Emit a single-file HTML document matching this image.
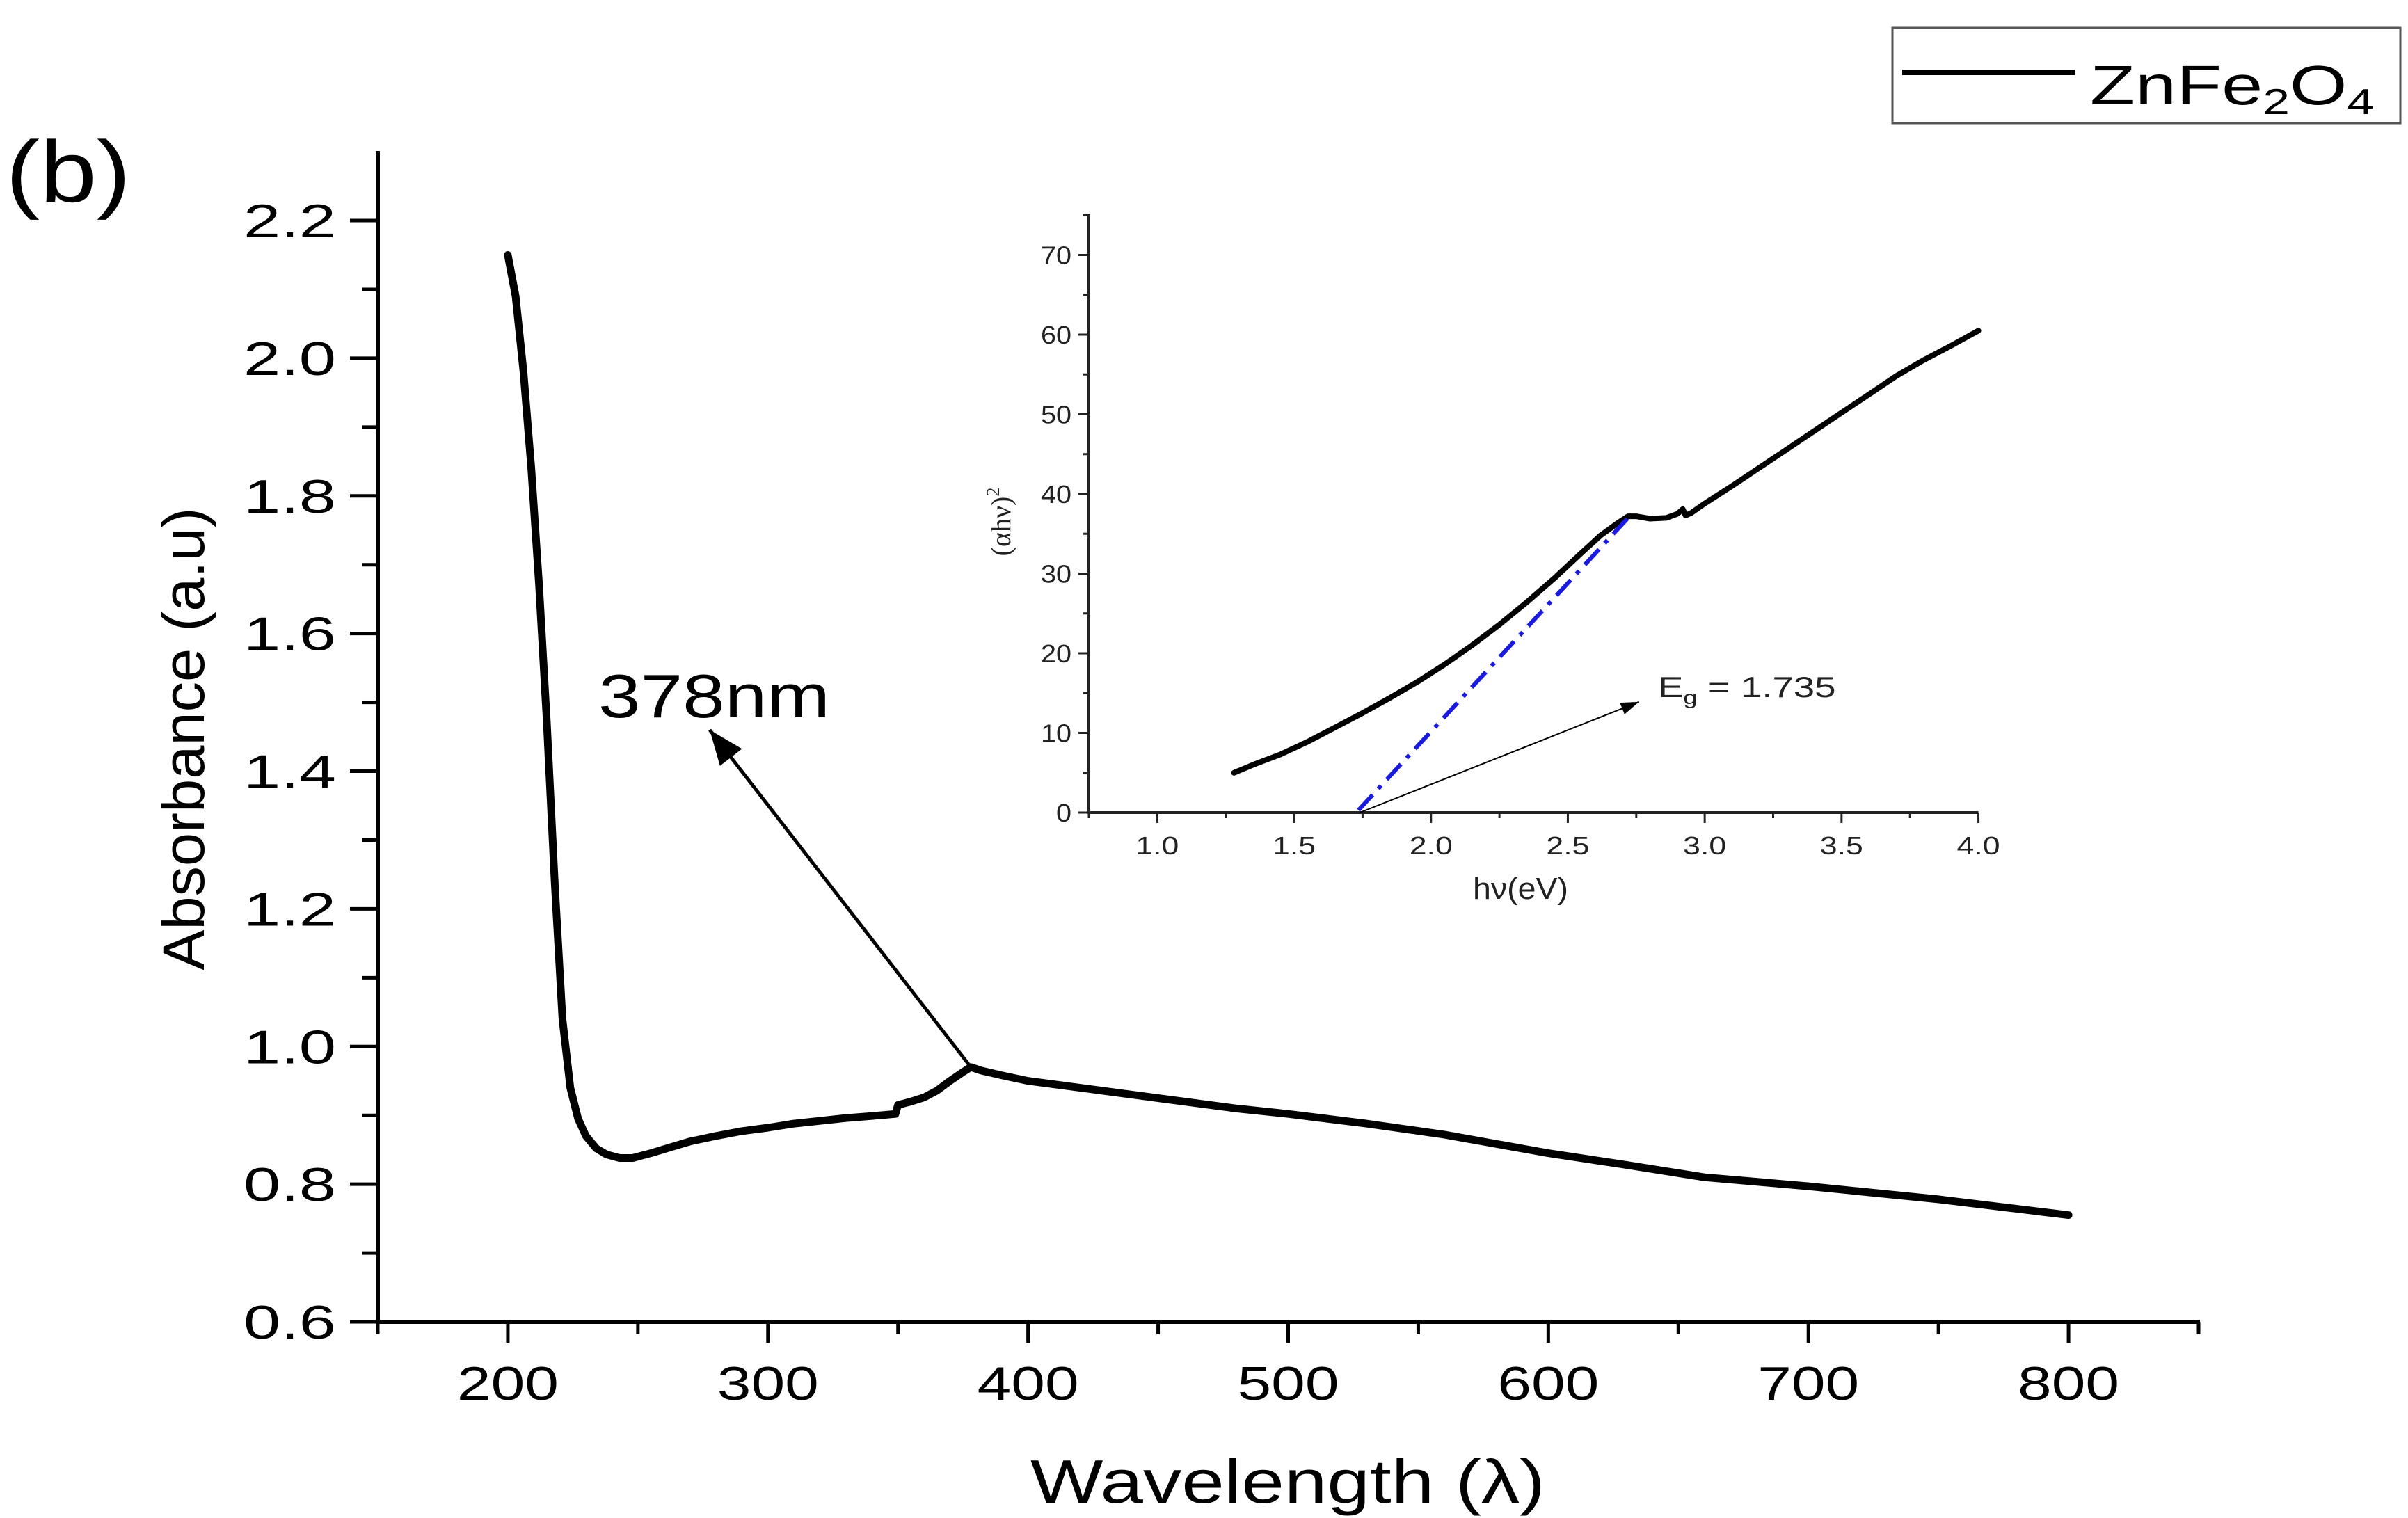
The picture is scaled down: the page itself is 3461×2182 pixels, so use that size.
<!DOCTYPE html>
<html><head><meta charset="utf-8"><style>
html,body{margin:0;padding:0;background:#fff;}
svg{display:block;font-family:"Liberation Sans",Arial,sans-serif;}
</style></head><body>
<svg id="chart" width="3461" height="2182" viewBox="0 0 3461 2182" xmlns="http://www.w3.org/2000/svg">
<g id="main"></g>
<g id="inset"></g>
</svg>
<script>
// Main chart data
const mainWavelength = [200,203,206,209,212,215,218,221,224,227,230,234,238,243,248,255,262,270,280,290,300,310,320,330,340,349,350,355,360,365,370,375,378,382,390,400,420,450,480,500,530,560,600,630,660,700,750,800];
const mainAbsorbance = [2.15,2.09,1.98,1.84,1.67,1.47,1.24,1.04,0.94,0.895,0.87,0.852,0.843,0.838,0.838,0.845,0.853,0.862,0.870,0.877,0.882,0.888,0.892,0.896,0.899,0.902,0.915,0.920,0.926,0.936,0.950,0.963,0.970,0.965,0.958,0.950,0.940,0.925,0.910,0.902,0.888,0.872,0.845,0.828,0.810,0.797,0.778,0.755];
const mainXTicks = [200,300,400,500,600,700,800];
const mainYTicks = [0.6,0.8,1.0,1.2,1.4,1.6,1.8,2.0,2.2];
const peakPoint = [378,0.97];
const peakLabelPoint = [277.6,1.46];
// Inset data
const insetEnergy = [1.28,1.35,1.45,1.55,1.65,1.75,1.85,1.95,2.05,2.15,2.25,2.35,2.45,2.55,2.62,2.68,2.72,2.75,2.80,2.86,2.90,2.92,2.93,2.95,3.0,3.1,3.2,3.3,3.4,3.5,3.6,3.7,3.8,3.9,4.0];
const insetValue = [5.0,6.0,7.3,8.9,10.7,12.5,14.4,16.4,18.6,21.0,23.6,26.4,29.4,32.6,34.8,36.3,37.2,37.2,36.9,37.0,37.5,38.1,37.3,37.6,38.8,41.0,43.3,45.6,47.9,50.2,52.5,54.8,56.8,58.6,60.5];
const fitLine = [[1.735,0.3],[2.72,37]];
const insetXTicks = [1.0,1.5,2.0,2.5,3.0,3.5,4.0];
const insetYTicks = [0,10,20,30,40,50,60,70];
const egArrowEnd = [2.76,13.9];

const NS="http://www.w3.org/2000/svg";
function mk(parent,tag,attrs,text){const e=document.createElementNS(NS,tag);for(const k in attrs)e.setAttribute(k,attrs[k]);if(text!==undefined)e.textContent=text;parent.appendChild(e);return e;}

const mx=v=>543+(v-150)*(3160-543)/700;
const my=v=>1900-(v-0.6)*(1900-317)/1.6;
const main=document.getElementById('main');
let el;
el=mk(main,'text',{x:8,y:290,'font-size':125,textLength:180,lengthAdjust:'spacingAndGlyphs'});el.textContent='(b)';


el=mk(main,'line',{x1:543,y1:217,x2:543,y2:1903,stroke:'#000','stroke-width':6});


el=mk(main,'line',{x1:540,y1:1900,x2:3162,y2:1900,stroke:'#000','stroke-width':6});


for(let i=0;i<mainYTicks.length;i++){const v=mainYTicks[i];const y=my(v);
 el=mk(main,'line',{x1:503,y1:y,x2:543,y2:y,stroke:'#000','stroke-width':5});
 
 
 if(i<mainYTicks.length-1){const ym=my(v+0.1);el=mk(main,'line',{x1:520,y1:ym,x2:543,y2:ym,stroke:'#000','stroke-width':5});
 
 }
 el=mk(main,'text',{x:350,y:y+24,'font-size':68,textLength:133,lengthAdjust:'spacingAndGlyphs'},v.toFixed(1));
 
 
}
for(let v=150;v<=850;v+=50){const x=mx(v);const major=(v%100===0);
 el=mk(main,'line',{x1:x,y1:1900,x2:x,y2:major?1930:1918,stroke:'#000','stroke-width':5});
 
 
}
for(const v of mainXTicks){el=mk(main,'text',{x:mx(v)-73,y:2012,'font-size':68,textLength:146,lengthAdjust:'spacingAndGlyphs'},String(v));
 
 }
el=mk(main,'text',{x:1481,y:2160,'font-size':88,textLength:740,lengthAdjust:'spacingAndGlyphs'},'Wavelength (λ)');


el=mk(main,'text',{x:0,y:0,'font-size':84,'text-anchor':'middle',transform:'translate(293,1062) rotate(-90)',textLength:665,lengthAdjust:'spacingAndGlyphs'},'Absorbance (a.u)');


let d='';for(let i=0;i<mainWavelength.length;i++){d+=(i?'L':'M')+mx(mainWavelength[i]).toFixed(1)+','+my(mainAbsorbance[i]).toFixed(1);}
el=mk(main,'path',{d:d,fill:'none',stroke:'#000','stroke-width':11,'stroke-linejoin':'round','stroke-linecap':'round'});


{const x1=mx(peakPoint[0]),y1=my(peakPoint[1]),x2=mx(peakLabelPoint[0]),y2=my(peakLabelPoint[1]);
 el=mk(main,'line',{x1:x1,y1:y1,x2:x2,y2:y2,stroke:'#000','stroke-width':5});
 
 
 const a=Math.atan2(y2-y1,x2-x1),L=50,W=20;const bx=x2-L*Math.cos(a),by=y2-L*Math.sin(a);
 el=mk(main,'polygon',{points:`${x2},${y2} ${bx-W*Math.sin(a)},${by+W*Math.cos(a)} ${bx+W*Math.sin(a)},${by-W*Math.cos(a)}`,fill:'#000'});
 
 
}
el=mk(main,'text',{x:860,y:1031,'font-size':88,textLength:333,lengthAdjust:'spacingAndGlyphs'},'378nm');


el=mk(main,'rect',{x:2720,y:40,width:730,height:137,fill:'#fff',stroke:'#555','stroke-width':3});


el=mk(main,'line',{x1:2734,y1:104,x2:2982,y2:104,stroke:'#000','stroke-width':8});


el=mk(main,'text',{x:0,y:0,'font-size':80,transform:'translate(3004,150) scale(1.33,1)'});
el.innerHTML='ZnFe<tspan font-size="52" dy="14">2</tspan><tspan dy="-14">O</tspan><tspan font-size="52" dy="14">4</tspan>';



// inset
const ix=v=>1565+(v-0.75)*393.4;
const iy=v=>1168-v*(1168-366.5)/70;
const ins=document.getElementById('inset');
el=mk(ins,'line',{x1:1565,y1:308,x2:1565,y2:1170,stroke:'#222','stroke-width':4});


el=mk(ins,'line',{x1:1563,y1:1168,x2:ix(4.0),y2:1168,stroke:'#222','stroke-width':4});


for(let v=0;v<=75;v+=5){const y=iy(v);const major=v%10===0;
 el=mk(ins,'line',{x1:major?1550:1557,y1:y,x2:1565,y2:y,stroke:'#222','stroke-width':3});
 
 }
for(const v of insetYTicks){const s=String(v);el=mk(ins,'text',{x:1540-(s.length*22),y:iy(v)+13,'font-size':36,fill:'#222',textLength:s.length*22,lengthAdjust:'spacingAndGlyphs'},s);
 
 }
for(let k=0;k<=13;k++){const v=0.75+k*0.25;const x=ix(v);const major=(k%2===1);
 el=mk(ins,'line',{x1:x,y1:1168,x2:x,y2:major?1183:1176,stroke:'#222','stroke-width':3});
 
 }
for(const v of insetXTicks){el=mk(ins,'text',{x:ix(v)-31,y:1228,'font-size':36,fill:'#222',textLength:62,lengthAdjust:'spacingAndGlyphs'},v.toFixed(1));
 
 }
el=mk(ins,'text',{x:2117,y:1292,'font-size':44,fill:'#222',textLength:137,lengthAdjust:'spacingAndGlyphs'},'hν(eV)');


el=mk(ins,'text',{x:0,y:0,'font-size':40,'text-anchor':'middle',fill:'#222',transform:'translate(1452,750) rotate(-90)','font-family':'"Liberation Serif",serif'});
el.innerHTML='(αhν)<tspan font-size="26" dy="-16">2</tspan>';


d='';for(let i=0;i<insetEnergy.length;i++){d+=(i?'L':'M')+ix(insetEnergy[i]).toFixed(1)+','+iy(insetValue[i]).toFixed(1);}
el=mk(ins,'path',{d:d,fill:'none',stroke:'#000','stroke-width':8,'stroke-linejoin':'round','stroke-linecap':'round'});


el=mk(ins,'line',{x1:ix(fitLine[0][0]),y1:iy(fitLine[0][1]),x2:ix(fitLine[1][0]),y2:iy(fitLine[1][1]),stroke:'#1a1ae6','stroke-width':6,'stroke-dasharray':'30,12,6,12'});


{const x1=ix(1.74),y1=iy(0),x2=ix(egArrowEnd[0]),y2=iy(egArrowEnd[1]);
 el=mk(ins,'line',{x1:x1,y1:y1,x2:x2,y2:y2,stroke:'#000','stroke-width':2});
 
 
 const a=Math.atan2(y2-y1,x2-x1),L=26,W=9;const bx=x2-L*Math.cos(a),by=y2-L*Math.sin(a);
 el=mk(ins,'polygon',{points:`${x2},${y2} ${bx-W*Math.sin(a)},${by+W*Math.cos(a)} ${bx+W*Math.sin(a)},${by-W*Math.cos(a)}`,fill:'#000'});
 
 
}
el=mk(ins,'text',{x:0,y:0,'font-size':42,fill:'#222',transform:'translate(2383,1002) scale(1.3,1)'});
el.innerHTML='E<tspan font-size="28" dy="10">g</tspan><tspan dy="-10"> = 1.735</tspan>';


</script>
</body></html>
